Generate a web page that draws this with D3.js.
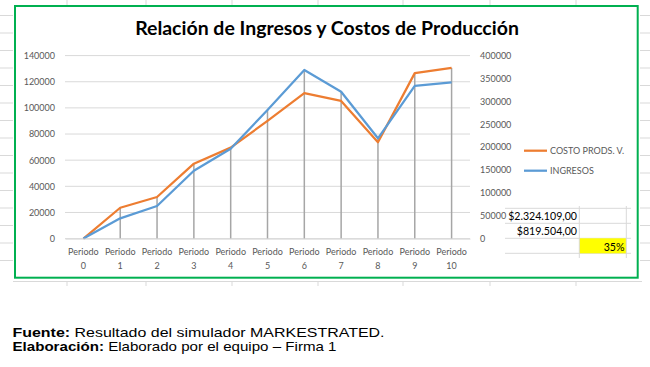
<!DOCTYPE html>
<html>
<head>
<meta charset="utf-8">
<script src="https://cdn.jsdelivr.net/npm/d3@7"></script>
<style>
  body { margin: 0; background: #fff; }
  svg { display: block; }
  .tick text { fill: #595959; font-family: Lato, "Liberation Sans", sans-serif; font-size: 9px; }
</style>
</head>
<body>
<svg id="chart" width="650" height="367"></svg>
<script>
  // chart data
  var periodos = ['Periodo 0', 'Periodo 1', 'Periodo 2', 'Periodo 3', 'Periodo 4', 'Periodo 5',
                  'Periodo 6', 'Periodo 7', 'Periodo 8', 'Periodo 9', 'Periodo 10'];
  var costoProds = [0, 23600, 31800, 57300, 69600, 90000, 111300, 105300, 73700, 126600, 130600];
  var ingresos = [0, 44300, 71200, 148400, 196500, 281000, 368500, 321000, 219200, 334000, 341500];
  var leftTicks = [0, 20000, 40000, 60000, 80000, 100000, 120000, 140000];
  var rightTicks = [0, 50000, 100000, 150000, 200000, 250000, 300000, 350000, 400000];
  var seriesNames = ['COSTO PRODS. V.', 'INGRESOS'];
  var seriesColors = ['#ed7d31', '#5b9bd5'];
  var tableValues = ['$2.324.109,00', '$819.504,00'];
  var ratioLabel = '35%';
  var titleText = 'Relación de Ingresos y Costos de Producción';

(function() {
  var svg = d3.select('#chart');
  var plotLeft = 65, plotRight = 470, plotTop = 55.6, plotBottom = 238.6;
  var font = 'Lato, "Liberation Sans", sans-serif';

  // spreadsheet cell lines peeking around the chart
  var sheet = svg.append('g').attr('stroke', '#d9d9d9').attr('stroke-width', 1);
  var colX = [67, 146, 232, 318, 403, 490, 576];
  colX.forEach(function(x) {
    sheet.append('line').attr('x1', x).attr('x2', x).attr('y1', 0).attr('y2', 5);
    sheet.append('line').attr('x1', x).attr('x2', x).attr('y1', 281).attr('y2', 286);
  });
  sheet.append('line').attr('x1', 13).attr('x2', 642).attr('y1', 281.5).attr('y2', 281.5);
  d3.range(0, 15).forEach(function(i) {
    var y = 15.5 + i * 17.5;
    sheet.append('line').attr('x1', 0).attr('x2', 13).attr('y1', y).attr('y2', y);
    sheet.append('line').attr('x1', 640).attr('x2', 650).attr('y1', y).attr('y2', y);
  });

  svg.append('rect')
    .attr('x', 15).attr('y', 6).attr('width', 622.7).attr('height', 271.7)
    .attr('fill', '#fff').attr('stroke', '#00b050').attr('stroke-width', 2);

  var x = d3.scaleBand().domain(periodos).range([plotLeft, plotRight]);
  var yL = d3.scaleLinear().domain([0, 140000]).range([plotBottom, plotTop]);
  var yR = d3.scaleLinear().domain([0, 400000]).range([plotBottom, plotTop]);
  var cx = function(d, i) { return x(periodos[i]) + x.bandwidth() / 2; };

  // table cells (sheet shows through the chart)
  var table = svg.append('g');
  [208.3, 223.3, 238.3, 253.3].forEach(function(y) {
    table.append('line').attr('x1', 505).attr('x2', 631).attr('y1', y).attr('y2', y)
      .attr('stroke', '#d9d9d9');
  });
  table.append('rect').attr('x', 579.3).attr('y', 238.3).attr('width', 47).attr('height', 15)
    .attr('fill', '#ffff00');
  [579.3, 626.3].forEach(function(xx) {
    table.append('line').attr('x1', xx).attr('x2', xx).attr('y1', 206).attr('y2', 258)
      .attr('stroke', '#d9d9d9');
  });
  tableValues.forEach(function(t, i) {
    table.append('text').attr('x', 577).attr('y', 220 + i * 15)
      .attr('text-anchor', 'end')
      .style('font-family', font).style('font-size', '10.6px')
      .attr('fill', '#000').text(t);
  });
  table.append('text').attr('x', 624.5).attr('y', 250.5).attr('text-anchor', 'end')
    .style('font-family', font).style('font-size', '10.6px')
    .attr('fill', '#000').text(ratioLabel);

  // gridlines
  svg.append('g').selectAll('line')
    .data(leftTicks)
    .join('line')
    .attr('x1', plotLeft).attr('x2', plotRight)
    .attr('y1', function(d) { return yL(d); })
    .attr('y2', function(d) { return yL(d); })
    .attr('stroke', '#d9d9d9').attr('stroke-width', 1);

  // drop lines
  svg.append('g').selectAll('line')
    .data(periodos)
    .join('line')
    .attr('x1', cx).attr('x2', cx)
    .attr('y1', function(d, i) { return Math.min(yL(costoProds[i]), yR(ingresos[i])); })
    .attr('y2', plotBottom)
    .attr('stroke', '#a6a6a6').attr('stroke-width', 1.5);

  var lineL = d3.line().x(cx).y(function(d) { return yL(d); });
  var lineR = d3.line().x(cx).y(function(d) { return yR(d); });

  svg.append('path').datum(costoProds)
    .attr('d', lineL).attr('fill', 'none')
    .attr('stroke', seriesColors[0]).attr('stroke-width', 2.25).attr('stroke-linejoin', 'round');
  svg.append('path').datum(ingresos)
    .attr('d', lineR).attr('fill', 'none')
    .attr('stroke', seriesColors[1]).attr('stroke-width', 2.25).attr('stroke-linejoin', 'round');

  // axes
  svg.append('g').attr('transform', 'translate(' + plotLeft + ',0)')
    .call(d3.axisLeft(yL).tickValues(leftTicks).tickFormat(d3.format('d')).tickSize(0).tickPadding(10))
    .call(function(g) { g.select('.domain').remove(); });

  svg.append('g').attr('transform', 'translate(' + plotRight + ',0)')
    .call(d3.axisRight(yR).tickValues(rightTicks).tickFormat(d3.format('d')).tickSize(0).tickPadding(10))
    .call(function(g) { g.select('.domain').remove(); });

  var xAxis = svg.append('g').attr('transform', 'translate(0,' + plotBottom + ')')
    .call(d3.axisBottom(x).tickSize(0).tickPadding(10));
  xAxis.select('.domain').attr('stroke', '#d9d9d9');
  xAxis.selectAll('.tick text').each(function(d) {
    var parts = d.split(' ');
    var t = d3.select(this).text(null).attr('dy', null).attr('y', 16.5);
    t.append('tspan').attr('x', 0).text(parts[0]);
    t.append('tspan').attr('x', 0).attr('dy', 14).text(parts[1]);
  });

  // title
  var title = svg.append('text')
    .attr('x', 327).attr('y', 35)
    .attr('text-anchor', 'middle')
    .style('font-family', font)
    .style('font-weight', 'bold').style('font-size', '18px')
    .attr('fill', '#000').text(titleText);
  var tw = title.node().getComputedTextLength();
  title.style('font-size', (18 * 384 / tw) + 'px');

  // legend
  var legend = svg.append('g');
  seriesNames.forEach(function(name, i) {
    var y = 150.7 + i * 20;
    legend.append('line').attr('x1', 524).attr('x2', 547).attr('y1', y).attr('y2', y)
      .attr('stroke', seriesColors[i]).attr('stroke-width', 2.25);
    legend.append('text').attr('x', 550).attr('y', y).attr('dy', '0.33em')
      .style('font-family', font).style('font-size', '9px')
      .attr('fill', '#595959').text(name);
  });

  // footer notes
  var notes = [['Fuente:', ' Resultado del simulador MARKESTRATED.', 372],
               ['Elaboración:', ' Elaborado por el equipo – Firma 1', 324]];
  notes.forEach(function(n, i) {
    var t = svg.append('text').attr('x', 12.5).attr('y', 337.2 + i * 14)
      .style('font-family', '"Liberation Sans", Arial, sans-serif').style('font-size', '12.6px')
      .attr('fill', '#000')
      .attr('textLength', n[2]).attr('lengthAdjust', 'spacingAndGlyphs');
    t.append('tspan').style('font-weight', 'bold').text(n[0]);
    t.append('tspan').text(n[1]);
  });
})();
</script>
</body>
</html>
